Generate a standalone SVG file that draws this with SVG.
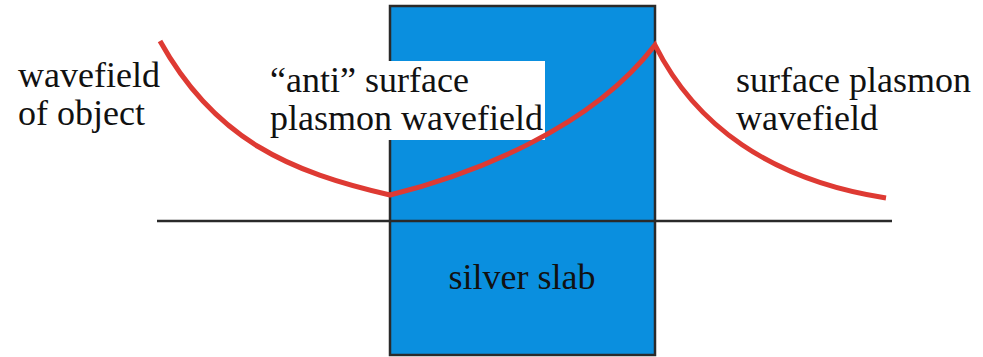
<svg xmlns="http://www.w3.org/2000/svg" width="983" height="357" viewBox="0 0 983 357">
<style>
.curve{fill:none;stroke:#DE3A33;stroke-width:5;stroke-linejoin:miter}
</style>
<rect width="983" height="357" fill="#fff"/>
<g font-family="'Liberation Serif', 'Times New Roman', Times, serif" font-size="36" fill="#111">
<g id="slab">
<rect x="390" y="6" width="265" height="349" fill="#0A8FDF" stroke="#2a2a2a" stroke-width="2.5"/>
<text x="522" y="289" text-anchor="middle">silver slab</text>
</g>
<g id="connectors">
<line x1="157" y1="221" x2="892" y2="221" stroke="#2a2a2a" stroke-width="2.5"/>
</g>
<g id="anti-label">
<rect x="262" y="61" width="283" height="79" fill="#fff"/>
<text x="270" y="92">“anti” surface</text>
<text x="270" y="130">plasmon wavefield</text>
</g>
<g id="wave">
<path class="curve" d="M160,41 C215,140 290,172 390,195 C470,175 590,130 655,45 C695,125 770,180 886,198"/>
</g>
<g id="object-label">
<text x="18" y="87">wavefield</text>
<text x="18" y="125">of object</text>
</g>
<g id="sp-label">
<text x="736" y="92">surface plasmon</text>
<text x="736" y="130">wavefield</text>
</g>
</g>
</svg>
